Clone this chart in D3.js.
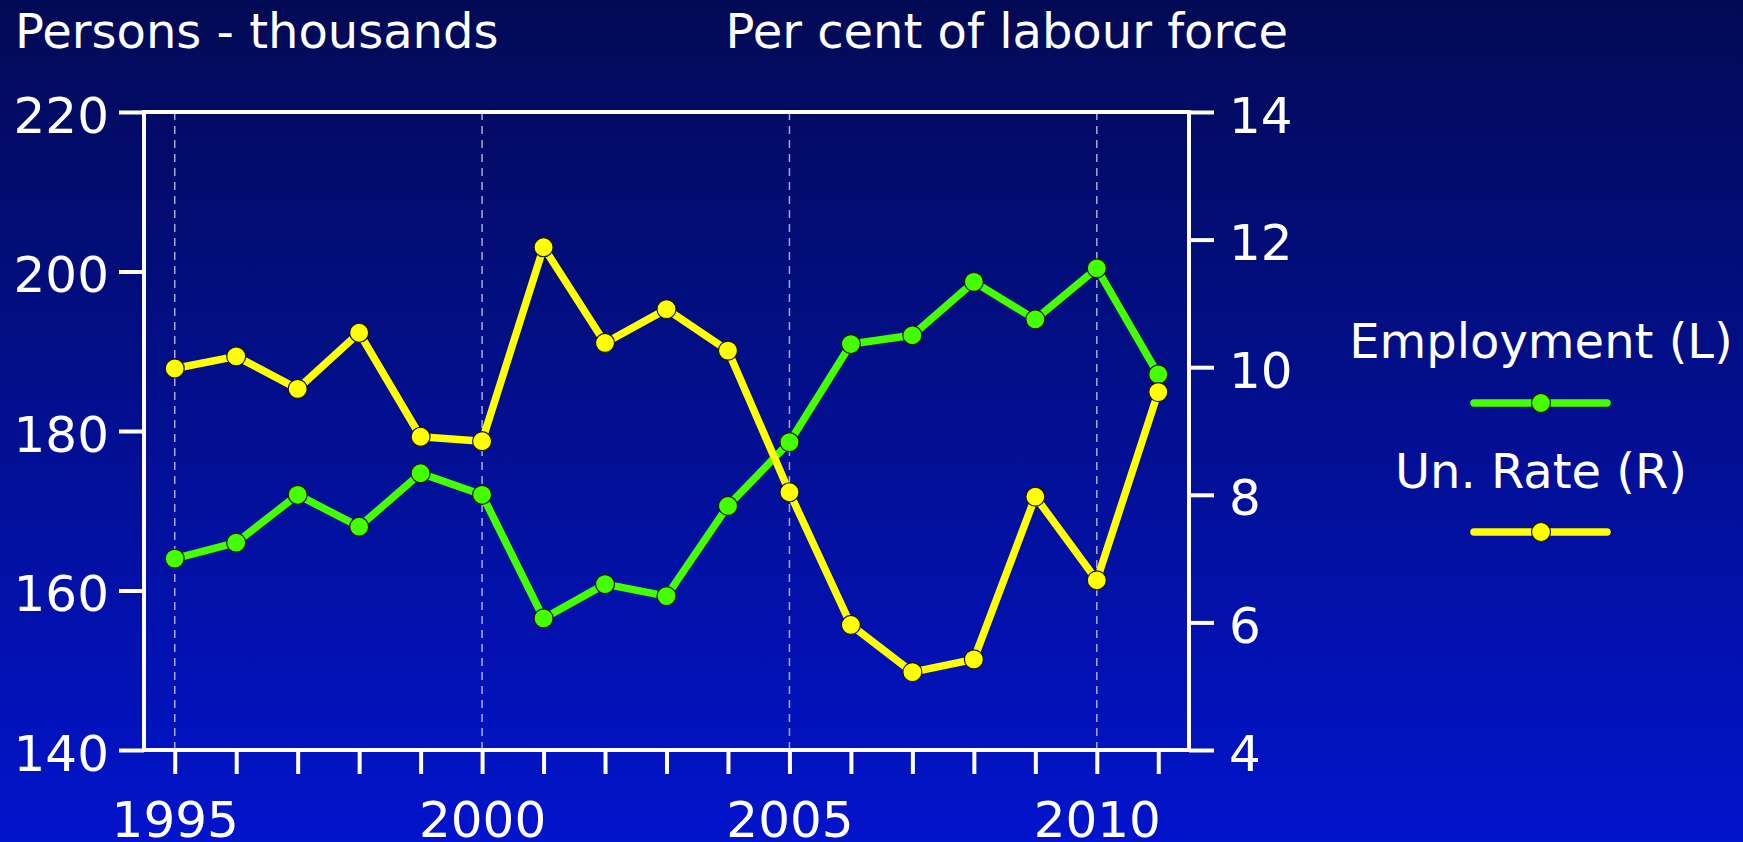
<!DOCTYPE html>
<html>
<head>
<meta charset="utf-8">
<script src="https://cdn.jsdelivr.net/npm/d3@7"></script>
<style>
  html, body { margin: 0; padding: 0; background: #020c5a; }
  svg { display: block; }
  text { font-family: "DejaVu Sans", Verdana, sans-serif; fill: #ffffff; }
</style>
</head>
<body>
<svg id="chart" width="1743" height="842"></svg>
<script>
// ---- data ----
const years = [1995, 1996, 1997, 1998, 1999, 2000, 2001, 2002, 2003, 2004, 2005, 2006, 2007, 2008, 2009, 2010, 2011];
const employment = [164.0, 166.0, 172.0, 168.0, 174.7, 172.0, 156.5, 160.8, 159.3, 170.6, 178.6, 190.9, 192.0, 198.7, 194.0, 200.4, 187.1];
const unRate = [9.98, 10.17, 9.66, 10.54, 8.91, 8.84, 11.88, 10.38, 10.91, 10.26, 8.04, 5.96, 5.22, 5.42, 7.97, 6.66, 9.61];
const leftTicks = [140, 160, 180, 200, 220];
const rightTicks = [4, 6, 8, 10, 12, 14];
const labelledYears = [1995, 2000, 2005, 2010];
const leftTitle = "Persons - thousands";
const rightTitle = "Per cent of labour force";
const seriesNames = ["Employment (L)", "Un. Rate (R)"];
const seriesColors = ["#44ff00", "#ffff00"];

// ---- layout ----
const W = 1743, H = 842;
const plot = { left: 144, right: 1189, top: 112, bottom: 750 };
const svg = d3.select("#chart");

const defs = svg.append("defs");
const grad = defs.append("linearGradient").attr("id", "bg").attr("x1", 0).attr("y1", 0).attr("x2", 0).attr("y2", 1);
grad.append("stop").attr("offset", "0%").attr("stop-color", "#020a55");
grad.append("stop").attr("offset", "50%").attr("stop-color", "#020f90");
grad.append("stop").attr("offset", "100%").attr("stop-color", "#0214cc");
svg.append("rect").attr("width", W).attr("height", H).attr("fill", "url(#bg)");

const x = d3.scaleLinear().domain([1994.5, 2011.5]).range([plot.left, plot.right]);
const yL = d3.scaleLinear().domain([140, 220]).range([plot.bottom, plot.top]);
const yR = d3.scaleLinear().domain([4, 14]).range([plot.bottom, plot.top]);

// dashed year gridlines
svg.append("g").selectAll("line").data(labelledYears).join("line")
  .attr("x1", d => x(d)).attr("x2", d => x(d))
  .attr("y1", plot.top).attr("y2", plot.bottom)
  .attr("stroke", "rgba(255,255,255,0.65)").attr("stroke-width", 1.5)
  .attr("stroke-dasharray", "8,6");

const fontSize = 50;
function styleAxis(g) {
  g.selectAll(".domain").remove();
  g.selectAll(".tick line").attr("stroke", "#fff").attr("stroke-width", 4);
  g.selectAll(".tick text").attr("font-size", fontSize).attr("fill", "#fff")
    .attr("font-family", '"DejaVu Sans", Verdana, sans-serif');
}

// left axis
const gL = svg.append("g").attr("transform", `translate(${plot.left},0)`)
  .call(d3.axisLeft(yL).tickValues(leftTicks).tickSize(25).tickPadding(10).tickFormat(d3.format("d")));
styleAxis(gL);
gL.selectAll(".tick text").attr("dy", "0.4em");

// right axis
const gR = svg.append("g").attr("transform", `translate(${plot.right},0)`)
  .call(d3.axisRight(yR).tickValues(rightTicks).tickSize(25).tickPadding(15).tickFormat(d3.format("d")));
styleAxis(gR);
gR.selectAll(".tick text").attr("dy", "0.4em");

// bottom axis
const gB = svg.append("g").attr("transform", `translate(0,${plot.bottom})`)
  .call(d3.axisBottom(x).tickValues(years).tickSize(24).tickPadding(27)
    .tickFormat(d => labelledYears.includes(d) ? String(d) : ""));
styleAxis(gB);

// frame
svg.append("rect")
  .attr("x", plot.left).attr("y", plot.top)
  .attr("width", plot.right - plot.left).attr("height", plot.bottom - plot.top)
  .attr("fill", "none").attr("stroke", "#fff").attr("stroke-width", 4);

// titles
svg.append("text").attr("x", 15).attr("y", 48).attr("font-size", 48).text(leftTitle);
svg.append("text").attr("x", 1288).attr("y", 48).attr("font-size", 48).attr("text-anchor", "end").text(rightTitle);

// series
const series = [
  { name: seriesNames[0], color: seriesColors[0], values: employment, y: yL },
  { name: seriesNames[1], color: seriesColors[1], values: unRate, y: yR }
];
series.forEach(s => {
  const pts = years.map((yr, i) => [x(yr), s.y(s.values[i])]);
  svg.append("path").datum(pts)
    .attr("d", d3.line())
    .attr("fill", "none").attr("stroke", s.color).attr("stroke-width", 7.5)
    .attr("stroke-linejoin", "round").attr("stroke-linecap", "round");
  svg.append("g").selectAll("circle").data(pts).join("circle")
    .attr("cx", d => d[0]).attr("cy", d => d[1]).attr("r", 9.5)
    .attr("fill", s.color).attr("stroke", "#1a1a00").attr("stroke-width", 1.2);
});

// legend
const legendX = 1541;
const legendRows = [
  { textY: 358, lineY: 403 },
  { textY: 488, lineY: 532 }
];
series.forEach((s, i) => {
  const r = legendRows[i];
  svg.append("text").attr("x", legendX).attr("y", r.textY).attr("font-size", 48)
    .attr("text-anchor", "middle").text(s.name);
  svg.append("line").attr("x1", legendX - 67).attr("x2", legendX + 66)
    .attr("y1", r.lineY).attr("y2", r.lineY)
    .attr("stroke", s.color).attr("stroke-width", 7.5).attr("stroke-linecap", "round");
  svg.append("circle").attr("cx", legendX).attr("cy", r.lineY).attr("r", 9.5)
    .attr("fill", s.color).attr("stroke", "#1a1a00").attr("stroke-width", 1.2);
});
</script>
</body>
</html>
